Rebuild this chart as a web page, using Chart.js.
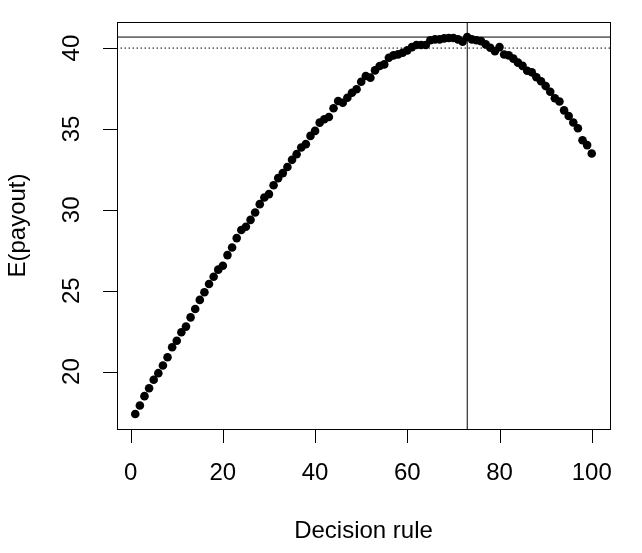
<!DOCTYPE html>
<html>
<head>
<meta charset="utf-8">
<script src="https://cdn.jsdelivr.net/npm/chart.js@4/dist/chart.umd.min.js"></script>
<style>
    html, body { margin: 0; padding: 0; background: #fff; }
    #wrap { width: 642px; height: 553px; }
</style>
</head>
<body>
<div id="wrap"><canvas id="chart" width="642" height="553"></canvas></div>
<script>
// Decision rule 1..100 and the expected payout
const decisionRule = Array.from({ length: 100 }, (_, i) => i + 1);
const payout = [
    17.38, 17.90, 18.48, 18.97, 19.49, 19.90, 20.37, 20.88, 21.50, 21.90,
    22.43, 22.78, 23.35, 23.87, 24.43, 24.90, 25.41, 25.86, 26.30, 26.54,
    27.20, 27.67, 28.25, 28.75, 28.95, 29.38, 29.83, 30.35, 30.76, 30.97,
    31.52, 31.96, 32.27, 32.65, 33.09, 33.44, 33.85, 34.06, 34.57, 34.88,
    35.39, 35.60, 35.74, 36.28, 36.73, 36.62, 36.93, 37.24, 37.45, 37.92,
    38.27, 38.17, 38.62, 38.89, 38.99, 39.40, 39.55, 39.61, 39.71, 39.86,
    40.06, 40.19, 40.19, 40.19, 40.48, 40.54, 40.54, 40.60, 40.62, 40.62,
    40.54, 40.39, 40.68, 40.54, 40.48, 40.43, 40.23, 40.02, 39.80, 40.06,
    39.60, 39.55, 39.35, 39.10, 38.90, 38.60, 38.50, 38.20, 37.95, 37.65,
    37.30, 36.90, 36.70, 36.15, 35.80, 35.40, 35.04, 34.30, 34.00, 33.48
];
const xTicks = [0, 20, 40, 60, 80, 100];
const yTicks = [20, 25, 30, 35, 40];
const threshold = 40;      // dotted reference line
const bestRule = 73;       // vertical line at the best rule
const xTitle = "Decision rule";
const yTitle = "E(payout)";

const FONT = '"Liberation Sans", Arial, Helvetica, sans-serif';

// R-style axis limits: data range extended by 4%
const xMin = 1, xMax = 100;
const yMinD = Math.min(...payout), yMaxD = Math.max(...payout);
const xPad = (xMax - xMin) * 0.04, yPad = (yMaxD - yMinD) * 0.04;

// box, ticks and labels in base-graphics style
const rAxes = {
    id: "rAxes",
    afterDraw(chart) {
        const ctx = chart.ctx;
        const a = chart.chartArea;
        const xs = chart.scales.x, ys = chart.scales.y;
        ctx.save();
        ctx.strokeStyle = "#000";
        ctx.lineWidth = 1;
        ctx.strokeRect(Math.round(a.left) + 0.5, Math.round(a.top) + 0.5,
                       Math.round(a.right - a.left), Math.round(a.bottom - a.top));

        ctx.fillStyle = "#000";
        ctx.font = "24px " + FONT;
        ctx.textAlign = "center";
        ctx.textBaseline = "middle";
        ctx.beginPath();
        xTicks.forEach(function(t) {
            const px = Math.round(xs.getPixelForValue(t)) + 0.5;
            ctx.moveTo(px, a.bottom);
            ctx.lineTo(px, a.bottom + 14);
        });
        yTicks.forEach(function(t) {
            const py = Math.round(ys.getPixelForValue(t)) + 0.5;
            ctx.moveTo(a.left, py);
            ctx.lineTo(a.left - 14, py);
        });
        ctx.stroke();

        xTicks.forEach(function(t) {
            ctx.fillText(String(t), xs.getPixelForValue(t), a.bottom + 44);
        });
        yTicks.forEach(function(t) {
            ctx.save();
            ctx.translate(a.left - 45, ys.getPixelForValue(t));
            ctx.rotate(-Math.PI / 2);
            ctx.fillText(String(t), 0, 0);
            ctx.restore();
        });

        ctx.fillText(xTitle, (a.left + a.right) / 2, a.bottom + 102);
        ctx.save();
        ctx.translate(a.left - 99, (a.top + a.bottom) / 2);
        ctx.rotate(-Math.PI / 2);
        ctx.fillText(yTitle, 0, 0);
        ctx.restore();
        ctx.restore();
    }
};

new Chart(document.getElementById("chart").getContext("2d"), {
    type: "scatter",
    data: {
        datasets: [
            {
                data: decisionRule.map(function(x, i) { return { x: x, y: payout[i] }; }),
                pointRadius: 4.3,
                pointBackgroundColor: "#000",
                pointBorderWidth: 0,
                showLine: false,
                order: 2,
            },
            {
                type: "line",
                data: [{ x: -10, y: yMaxD }, { x: 110, y: yMaxD }],
                borderColor: "#000",
                borderWidth: 1,
                pointRadius: 0,
                order: 1,
            },
            {
                type: "line",
                data: [{ x: -10, y: threshold }, { x: 110, y: threshold }],
                borderColor: "#000",
                borderWidth: 1,
                borderDash: [1.5, 2.5],
                pointRadius: 0,
                order: 1,
            },
            {
                type: "line",
                data: [{ x: bestRule, y: 0 }, { x: bestRule, y: 60 }],
                borderColor: "#000",
                borderWidth: 1,
                pointRadius: 0,
                order: 1,
            },
        ],
    },
    options: {
        responsive: false,
        animation: false,
        events: [],
        layout: { padding: { left: 117, right: 32, top: 22, bottom: 124 } },
        plugins: { legend: { display: false }, tooltip: { enabled: false } },
        scales: {
            x: { type: "linear", display: false, min: xMin - xPad, max: xMax + xPad },
            y: { type: "linear", display: false, min: yMinD - yPad, max: yMaxD + yPad },
        },
    },
    plugins: [rAxes],
});
</script>
</body>
</html>
